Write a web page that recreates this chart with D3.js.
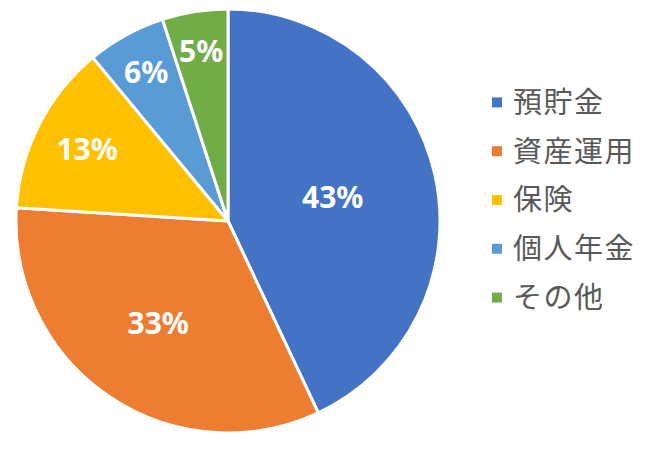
<!DOCTYPE html>
<html>
<head>
<meta charset="utf-8">
<script src="https://cdn.jsdelivr.net/npm/d3@7/dist/d3.min.js"></script>
<style>
  body { margin: 0; background: #fff; }
</style>
</head>
<body>
<div id="chart"></div>
<script>
(function() {
  var categories, values, labels, colors;

  categories = ["預貯金", "資産運用", "保険", "個人年金", "その他"];
  values = [43, 33, 13, 6, 5];
  labels = ["43%", "33%", "13%", "6%", "5%"];
  colors = ["#4472C4", "#ED7D31", "#FFC000", "#5B9BD5", "#70AD47"];

  var width = 653, height = 450;
  var cx = 228, cy = 221, radius = 212;
  var total = d3.sum(values);

  var svg = d3.select("#chart").append("svg")
    .attr("width", width).attr("height", height);

  var pie = d3.pie().sort(null).value(function(d) { return d; });
  var arcs = pie(values);
  var arc = d3.arc().innerRadius(0).outerRadius(radius);

  var g = svg.append("g").attr("transform", "translate(" + cx + "," + cy + ")");

  g.selectAll("path").data(arcs).enter().append("path")
    .attr("d", arc)
    .style("fill", function(d, i) { return colors[i]; })
    .style("stroke", "#fff")
    .style("stroke-width", 3)
    .style("stroke-linejoin", "round");

  // smaller slices get their label pushed further out (like Excel best fit)
  var labelPos = function(d) {
    var frac = (d.endAngle - d.startAngle) / (2 * Math.PI);
    var r = radius * (0.85 - 0.8 * frac);
    return d3.arc().innerRadius(r).outerRadius(r).centroid(d);
  };

  g.selectAll("text.lbl").data(arcs).enter().append("text")
    .attr("class", "lbl")
    .attr("x", function(d) { return labelPos(d)[0]; })
    .attr("y", function(d) { return labelPos(d)[1]; })
    .attr("dy", "0.35em")
    .attr("text-anchor", "middle")
    .style("font-family", "'Noto Sans', sans-serif")
    .style("font-weight", "bold")
    .style("font-size", "30px")
    .style("fill", "#fff")
    .text(function(d, i) { return labels[i]; });

  var legendY = d3.scaleBand().domain(categories).range([78, 322]);

  var leg = svg.selectAll("g.leg").data(categories).enter().append("g")
    .attr("class", "leg")
    .attr("transform", function(d) {
      return "translate(492," + (legendY(d) + legendY.bandwidth() / 2) + ")";
    });

  leg.append("rect")
    .attr("x", 0).attr("y", -5)
    .attr("width", 10).attr("height", 10)
    .style("fill", function(d, i) { return colors[i]; });

  leg.append("text")
    .attr("x", 21).attr("dy", "0.36em")
    .style("font-family", "'Noto Sans CJK JP', sans-serif")
    .style("font-size", "29px")
    .style("letter-spacing", "1.5px")
    .style("fill", "#595959")
    .text(function(d) { return d; });
})();
</script>
</body>
</html>
